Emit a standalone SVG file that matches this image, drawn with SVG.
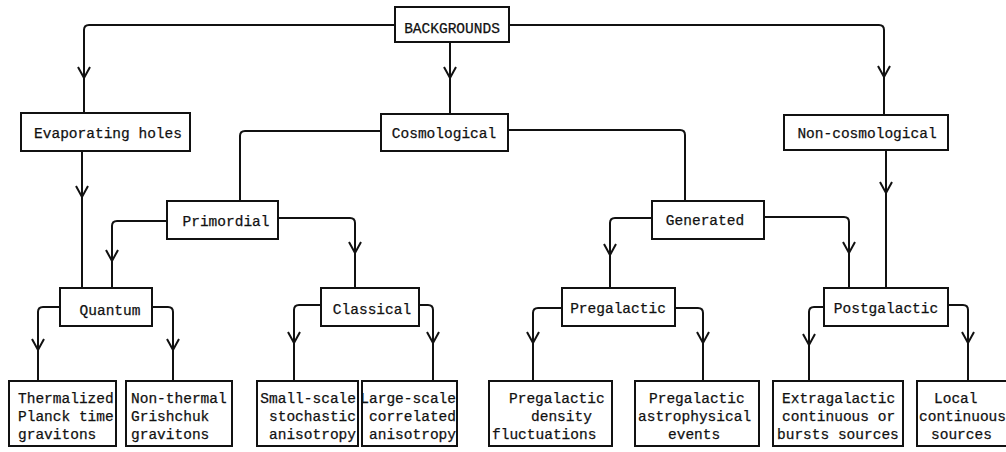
<svg xmlns="http://www.w3.org/2000/svg" xmlns:xlink="http://www.w3.org/1999/xlink" width="1006" height="452" viewBox="0 0 1006 452">
<style>
.box{fill:#fff;stroke:#111;stroke-width:2}
.c{fill:none;stroke:#111;stroke-width:2;stroke-linejoin:round}
.ah{fill:none;stroke:#111;stroke-width:2;stroke-linejoin:miter}
text{font-family:"Liberation Mono","Courier New",monospace;font-size:14.5px;fill:#111;stroke:#111;stroke-width:0.25}
.m{text-anchor:middle}
.e{text-anchor:end}
</style>
<defs>
<path id="ah" class="ah" d="M-6,-11 L0,0 L6,-11"/>
</defs>
<rect width="1006" height="452" fill="#fff"/>
<g id="connectors">
<path class="c" d="M395,25 H89 Q84,25 84,30 V113"/>
<path class="c" d="M450,42 V114"/>
<path class="c" d="M509,25 H879 Q884,25 884,30 V115"/>
<path class="c" d="M381,131 H245 Q240,131 240,136 V201"/>
<path class="c" d="M508,130 H680 Q685,130 685,135 V201"/>
<path class="c" d="M82,151 V288"/>
<path class="c" d="M167,221 H117 Q112,221 112,226 V288"/>
<path class="c" d="M278,218 H350 Q355,218 355,223 V288"/>
<path class="c" d="M652,218 H615 Q610,218 610,223 V289"/>
<path class="c" d="M764,217 H844 Q849,217 849,222 V288"/>
<path class="c" d="M886,150 V288"/>
<path class="c" d="M60,307 H43 Q38,307 38,312 V381"/>
<path class="c" d="M152,307 H168 Q173,307 173,312 V381"/>
<path class="c" d="M321,305 H299 Q294,305 294,310 V381"/>
<path class="c" d="M419,305 H428 Q433,305 433,310 V381"/>
<path class="c" d="M562,308 H538 Q533,308 533,313 V381"/>
<path class="c" d="M675,308 H698 Q703,308 703,313 V381"/>
<path class="c" d="M824,307 H814 Q809,307 809,312 V381"/>
<path class="c" d="M948,305 H963 Q968,305 968,310 V381"/>
<use xlink:href="#ah" x="84" y="78"/>
<use xlink:href="#ah" x="450" y="78"/>
<use xlink:href="#ah" x="884" y="77"/>
<use xlink:href="#ah" x="82" y="197"/>
<use xlink:href="#ah" x="112" y="261"/>
<use xlink:href="#ah" x="355" y="253"/>
<use xlink:href="#ah" x="610" y="255"/>
<use xlink:href="#ah" x="849" y="253"/>
<use xlink:href="#ah" x="886" y="193"/>
<use xlink:href="#ah" x="38" y="350"/>
<use xlink:href="#ah" x="173" y="350"/>
<use xlink:href="#ah" x="294" y="343"/>
<use xlink:href="#ah" x="433" y="343"/>
<use xlink:href="#ah" x="533" y="343"/>
<use xlink:href="#ah" x="703" y="343"/>
<use xlink:href="#ah" x="809" y="345"/>
<use xlink:href="#ah" x="968" y="343"/>
</g>
<g id="backgrounds"><rect class="box" x="395" y="7" width="114" height="35"/><text class="m" x="452" y="33">BACKGROUNDS</text></g>
<g id="evaporating"><rect class="box" x="21" y="113" width="169" height="38"/><text class="m" x="108" y="138">Evaporating holes</text></g>
<g id="cosmological"><rect class="box" x="381" y="114" width="127" height="37"/><text class="m" x="444" y="138">Cosmological</text></g>
<g id="noncosmological"><rect class="box" x="784" y="115" width="164" height="35"/><text class="m" x="867" y="138">Non-cosmological</text></g>
<g id="primordial"><rect class="box" x="167" y="201" width="111" height="38"/><text class="m" x="226" y="226">Primordial</text></g>
<g id="generated"><rect class="box" x="652" y="201" width="112" height="38"/><text class="m" x="705" y="225">Generated</text></g>
<g id="quantum"><rect class="box" x="60" y="288" width="92" height="38"/><text class="m" x="110" y="315">Quantum</text></g>
<g id="classical"><rect class="box" x="321" y="288" width="98" height="38"/><text class="m" x="372" y="314">Classical</text></g>
<g id="pregalactic"><rect class="box" x="562" y="288" width="113" height="38"/><text class="m" x="618" y="313">Pregalactic</text></g>
<g id="postgalactic"><rect class="box" x="824" y="288" width="124" height="38"/><text class="m" x="886" y="313">Postgalactic</text></g>
<g id="thermalized"><rect class="box" x="9" y="381" width="107" height="65"/>
<text x="18" y="403">Thermalized</text><text x="18" y="421">Planck time</text><text x="18" y="439">gravitons</text></g>
<g id="nonthermal"><rect class="box" x="126" y="381" width="106" height="65"/>
<text x="131" y="403">Non-thermal</text><text x="131" y="421">Grishchuk</text><text x="131" y="439">gravitons</text></g>
<g id="smallscale"><rect class="box" x="257" y="381" width="101" height="65"/>
<text class="e" x="356" y="403">Small-scale</text><text class="e" x="356" y="421">stochastic</text><text class="e" x="356" y="439">anisotropy</text></g>
<g id="largescale"><rect class="box" x="362" y="381" width="95" height="65"/>
<text class="e" x="456" y="403">Large-scale</text><text class="e" x="456" y="421">correlated</text><text class="e" x="456" y="439">anisotropy</text></g>
<g id="density"><rect class="box" x="489" y="381" width="123" height="65"/>
<text x="509" y="403">Pregalactic</text><text x="531" y="421">density</text><text x="492" y="439">fluctuations</text></g>
<g id="astrophysical"><rect class="box" x="635" y="381" width="124" height="65"/>
<text x="649" y="403">Pregalactic</text><text x="638" y="421">astrophysical</text><text x="668" y="439">events</text></g>
<g id="extragalactic"><rect class="box" x="773" y="381" width="130" height="65"/>
<text x="782" y="403">Extragalactic</text><text x="782" y="421">continuous or</text><text x="777" y="439">bursts sources</text></g>
<g id="local"><rect class="box" x="917" y="381" width="100" height="65"/>
<text x="934" y="403">Local</text><text x="919" y="421">continuous</text><text x="931" y="439">sources</text></g>
</svg>
